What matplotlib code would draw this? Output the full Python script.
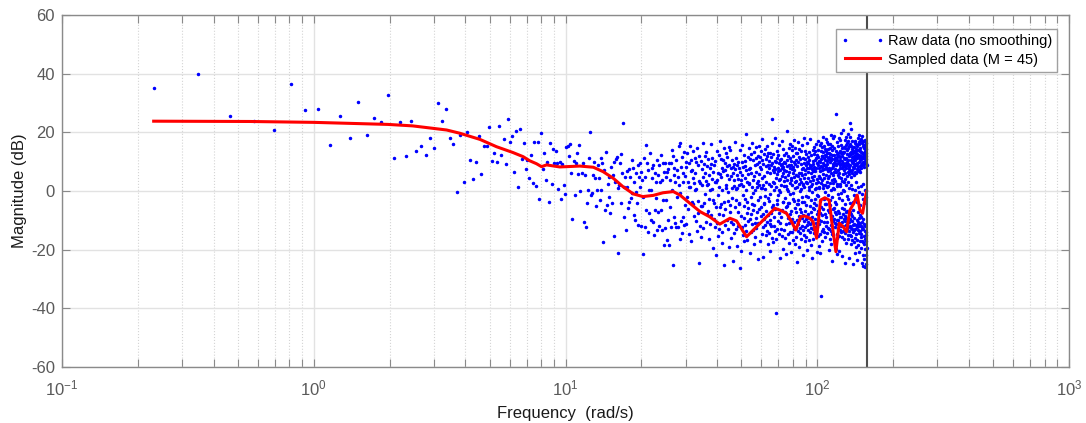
import matplotlib.pyplot as plt
import numpy as np

plt.rcParams['font.family'] = ['Liberation Sans', 'DejaVu Sans']
plt.rcParams['mathtext.fontset'] = 'custom'
plt.rcParams['mathtext.rm'] = 'Liberation Sans'
plt.rcParams['mathtext.it'] = 'Liberation Sans:italic'
plt.rcParams['axes.unicode_minus'] = False

# frequency resolution of the raw spectrum (rad/s) and the Nyquist frequency
dw = 0.1158
w_nyq = 157.08

# raw magnitude (dB), split by frequency bin ranges
# bins 2..79
raw_db_low = [
    35.0, 39.8, 25.6, 24.0, 20.7, 36.6, 27.5, 28.1, 15.7, 25.5,
    18.0, 30.2, 19.0, 24.9, 23.6, 32.6, 11.1, 23.6, 12.0, 24.0,
    13.6, 15.4, 12.3, 18.0, 14.7, 29.9, 24.0, 27.9, 18.2, 15.9,
    -0.3, 19.0, 3.1, 20.0, 10.5, 4.2, 9.9, 18.9, 5.7, 15.3,
    15.3, 21.9, 10.1, 13.1, 10.0, 22.3, 12.2, 17.6, 9.1, 24.7,
    16.8, 18.9, 6.4, 20.5, 1.3, 21.0, 10.8, 16.4, 7.4, 10.5,
    4.4, 12.3, 2.7, 16.8, 1.8, 16.8, -2.6, 19.7, 7.6, 12.8,
    3.6, 9.8, -3.9, 16.3, 2.5, 14.4, 9.4, 13.5,
]
# bins 80..259
raw_db_mid = [
    9.5, 0.6, 9.8, -2.6, 9.2, 2.2, -1.1, 15.1, 15.3, 12.1, 16.1, 6.1, -9.6, 10.3, -1.3, 9.4, 13.1, 5.8, 15.8, -0.0,
    6.0, 9.4, -10.7, 5.4, -12.2, -4.2, 0.3, 11.3, 20.2, -1.4, -0.8, 5.4, 10.0, 4.6, -5.1, 0.3, 8.9, 4.3, -3.1, 11.1,
    0.3, 9.6, -17.3, 7.2, -6.5, 13.3, -4.8, 2.5, -1.9, 4.9, -7.6, 8.1, -4.2, 5.4, 10.0, -15.4, 3.2, 10.8, 11.7, 1.0,
    -21.3, 2.0, 9.4, -4.2, 12.5, 6.3, 23.3, 1.5, -9.0, 4.9, -13.3, 6.9, 1.5, -5.9, 7.4, -3.7, 4.9, -2.5, 10.6, -0.8,
    7.7, -8.2, 3.1, -9.9, 6.0, -0.2, -4.2, 8.9, -11.6, 4.9, 1.5, 9.4, -12.0, 6.6, 3.7, -1.9, -21.5, 11.2, -12.2, 4.9,
    -6.5, 15.7, 9.4, -14.1, 7.1, 0.3, -7.6, 12.8, 0.3, -9.9, 7.7, 4.3, -10.5, 8.9, -15.0, -6.5, 6.0, -2.5, 3.2, -13.3,
    10.6, 5.4, -7.1, 8.9, -11.8, 3.2, 12.3, -6.5, -13.3, 3.7, 9.4, -3.1, 6.6, -18.4, 9.4, -12.7, -3.1, 4.9, -16.7, 6.6,
    -9.9, 7.5, -18.4, 9.4, -5.4, 3.7, -12.2, 9.4, 14.0, 0.3, -25.2, 12.1, -8.8, 5.4, 7.7, 3.2, -11.0, 10.6, -12.2, 7.1,
    -1.9, 4.9, -12.2, 2.0, 15.5, -16.2, 16.2, -0.8, 8.3, -10.1, 11.6, -14.3, 6.2, 2.9, -8.7, 13.4, -11.5, 5.1, -4.9, 9.8,
]
# bins 260..863
raw_db_high = [
    8.2, -11.4, -2.1, 12.9, -6.3, 3.1, -14.8, 9.6, 1.2, 1.4, 15.3, 6.8, -17.2, 10.4, -3.8, 7.1, -4.6, 4.4, 13.7, -8.6,
    2.7, 11.2, 0.2, 6.3, -10.2, 9.9, 0.8, -13.6, 14.8, -3.3, -7.4, 8.7, -24.6, 3.5, 12.1, -11.9, 2.6, -5.1, 10.3, -15.7,
    7.6, 1.9, -5.2, 16.4, 4.8, -12.7, 9.1, -4.2, 11.8, -0.9, 6.1, 3.3, -10.6, 13.2, -7.9, 8.4, 1.9, 2.4, 10.9, -6.8,
    5.5, -16.4, -2.7, 7.8, -11.1, 0.4, 9.3, -8.1, 15.9, 0.7, 4.1, 11.4, -19.6, 6.5, -3.1, 8.9, -4.0, -9.4, 2.9, -12.2,
    10.1, -5.6, 3.0, -21.8, 13.5, 3.8, -10.9, 6.2, -15.2, -1.5, 1.5, -7.7, 12.3, -12.8, 5.9, 17.1, -5.6, 4.7, -4.6, 11.0,
    -13.9, 8.0, 0.4, -17.7, 10.6, 6.7, -8.3, 14.5, -25.3, -3.8, 9.5, -11.7, 7.0, -6.0, 12.8, 0.9, 2.2, 8.6, 5.3, -10.0,
    11.7, -3.5, -0.3, -12.9, 15.0, 4.2, -19.0, 9.0, -7.2, -4.9, 13.9, -10.4, 7.7, -16.0, 5.0, 10.7, -2.4, 1.1, -23.7, 8.1,
    6.0, -11.2, 1.7, 3.6, -14.4, 9.2, -5.3, 16.8, 7.4, -3.0, 0.6, 11.3, -13.1, 5.6, -18.8, 8.8, 0.9, -7.0, 4.0, -11.8,
    9.8, 2.0, -4.3, 7.9, -4.0, 14.1, -26.2, 6.6, -20.5, 2.4, 3.9, -8.4, 10.0, -12.4, 5.4, 15.6, -1.2, 8.3, -14.9, 1.8,
    12.2, -9.3, -5.0, -17.0, 4.5, 10.2, -11.5, 8.5, -2.8, 0.3, -13.8, 7.2, 19.4, -7.5, 3.2, -16.6, -3.6, 5.8, -10.3, 11.5,
    -5.9, 7.5, 2.8, 14.7, 2.5, -9.7, 8.0, -21.0, 10.8, -2.0, -8.0, 12.7, -14.0, 6.3, 1.3, -11.3, -4.4, 16.2, -6.4, 3.7,
    -13.4, 10.5, -0.6, -17.9, 5.1, -4.8, 13.3, -10.8, 8.7, 0.2, -15.8, 11.1, 6.5, -9.2, 14.9, -12.6, 1.5, 2.8, 9.1, -7.3,
    12.0, -11.0, -3.2, 3.4, -23.1, 9.9, -6.2, 15.2, 5.7, 2.0, 8.2, -2.2, 11.6, -16.9, 7.6, 1.0, -5.3, 13.8, -8.5, 4.6,
    10.4, -14.5, 0.9, 17.6, -7.8, 2.1, -12.3, 9.3, -22.4, -4.1, 12.5, -9.5, 5.2, -4.3, 14.4, -11.6, -1.8, 0.7, -15.1, 10.9,
    -6.9, 8.6, 3.1, -13.7, 11.8, 6.6, -10.5, 15.4, -18.1, -2.5, 9.0, -8.2, 12.9, -3.3, 7.8, -14.2, 2.3, 10.1, -11.4, 6.2,
    13.1, -9.9, -1.0, -20.3, 8.9, 1.6, -7.6, 11.5, -12.1, 16.5, 24.5, -15.9, 9.5, -5.5, 7.0, 12.6, -4.7, 3.0, -17.4, 8.3,
    6.4, -11.9, 0.5, 2.6, -8.8, 10.3, -13.5, 7.4, 18.2, -6.1, 4.4, -16.3, 9.8, 1.4, -41.7, 11.2, -2.9, 5.9, -12.9, 13.7,
    -4.5, 8.0, -1.4, 6.7, 12.2, -10.2, 3.6, 15.8, -7.4, 9.4, -14.7, 0.5, 10.7, -11.0, 7.1, -23.0, -0.2, 4.1, -8.7, 8.8,
    11.0, -12.8, 2.0, 16.9, -6.5, 7.7, -15.3, 9.2, 5.0, -3.7, 14.3, -3.9, 8.1, -19.9, 6.0, 12.4, 1.7, 3.5, -13.2, 10.0,
    7.2, -7.1, -2.3, -16.1, 4.9, 9.7, -11.3, 1.7, 13.1, -5.4, 6.8, -21.4, 10.6, 20.5, -5.2, 8.5, 0.6, 3.9, 11.8, -14.8,
    5.3, -9.1, -4.2, 0.1, -17.6, 9.0, 6.4, -10.9, 14.6, -4.1, 7.9, -13.9, 2.7, 11.3, -7.8, 16.0, -1.1, 4.5, 8.7, -20.8,
    10.2, -6.8, 3.8, 13.9, -14.1, 7.5, -9.4, 1.9, 15.5, -0.7, 8.2, -2.6, 12.0, -16.8, 6.2, 9.9, -3.4, 4.7, -13.0, 17.3,
    -10.7, 7.0, 1.0, -5.7, 2.9, -18.0, 9.3, 14.8, -12.5, 5.6, -7.0, 10.5, -15.6, 3.3, 13.0, -9.8, -4.5, -24.2, 8.6, 1.2,
    12.9, -11.1, -2.9, -4.4, 16.6, -13.6, 5.0, 9.8, -8.6, 2.4, -19.2, 11.7, 6.3, -10.0, 14.2, -6.3, 0.0, -14.3, 4.0, 10.8,
    -12.6, 3.1, 13.6, -7.2, 9.1, -16.5, 6.1, 0.8, -9.3, -1.9, 7.6, -11.8, 15.7, -3.6, 5.4, -21.9, 2.5, 8.0, -13.4, 2.1,
    11.1, -8.1, -3.9, 18.0, -14.9, 4.3, 9.6, -10.3, 1.3, 13.5, -6.7, 7.3, -17.1, 10.9, 5.7, -12.3, -1.6, -4.7, 8.9, -9.5,
    3.2, 12.5, -15.7, 7.8, -11.5, 16.3, 2.6, -8.4, 10.0, -20.0, 6.5, 11.6, -7.7, 4.6, -13.3, 9.5, -2.2, -10.6, 0.3, 7.9,
    -16.7, 13.2, 1.2, -9.2, 10.4, -5.0, 8.3, -14.0, 17.7, 3.4, -11.2, 9.0, 6.0, -18.5, 12.3, -7.3, 1.6, -3.0, -12.7, 8.6,
    4.9, -10.4, -0.4, -22.8, 7.4, 2.3, -8.9, 14.1, -13.1, 6.8, 10.1, -5.8, 9.2, -16.2, 3.6, 12.7, -4.1, 7.2, -6.0, 15.0,
    -14.4, 8.1, 5.1, -9.7, 13.8, 0.6, -12.2, 10.6, 6.7, -2.6, 11.3, -4.9, 8.0, -10.8, 16.1, 2.8, -13.7, 0.9, -7.9, 4.2,
    12.4, -11.6, -1.3, -20.7,
]
# bins 864..1356 (up to Nyquist)
raw_db_top = [
    9.4, -12.2, 14.1, -1.8, -6.8, 11.5, 3.2, -15.3, 8.7, 17.0, -9.9, 5.1, 0.9, -18.6, 7.9, 1.4, -11.4, 10.3, 15.6, -7.5,
    4.4, 9.9, -14.6, -3.5, 6.8, -21.2, 13.7, 2.7, -10.1, -35.8, 8.5, 16.4, -5.4, 10.9, -13.7, 7.0, 11.8, -8.2, 3.9, 14.9,
    -16.9, 8.1, 12.0, 2.1, 5.8, 18.3, -12.8, 9.6, 0.9, -6.1, 13.3, 7.4, -2.8, 11.1, 4.6, -10.6, 15.2, -13.9, 8.8, 2.0,
    10.7, -7.7, 14.4, -0.5, -15.8, 12.2, -4.3, 9.0, 17.6, -11.9, 5.5, 11.9, -4.6, 8.3, 13.6, -8.8, 3.0, 10.1, -14.3, 16.7,
    7.6, -10.4, 12.9, 1.3, 9.3, 1.8, 15.9, -6.6, 11.2, -12.5, 6.9, 14.3, -1.2, 4.3, -20.1, 10.8, 8.0, -13.1, 13.0, 5.0,
    -7.0, 11.6, 16.1, -3.0, 7.2, -16.4, 9.8, 12.7, -4.9, 2.6, 14.8, -13.5, 0.4, 10.5, -9.6, 19.2, -18.0, 6.2, 11.3, -11.7,
    13.9, 3.6, -8.5, -2.2, -14.8, 15.5, 7.8, -23.8, 12.4, -6.3, 9.2, 5.6, 2.7, 17.9, -10.2, 8.6, 1.1, -15.1, 11.0, 14.6,
    -9.4, 6.6, 12.3, 0.6, 9.7, 18.7, -5.7, 4.0, -17.8, 11.4, 7.5, -10.9, -3.9, -12.4, 10.2, 3.3, -7.1, 13.5, -19.7, 8.9,
    26.2, -11.3, 9.1, -4.4, -8.0, 6.4, 11.7, -14.5, 16.8, 2.3, -9.8, 12.5, 1.6, -16.0, 10.6, -21.5, 13.1, 5.3, -6.7, 9.5,
    15.4, -12.9, 7.1, -1.0, -10.0, 18.1, -15.5, 4.7, 12.1, -7.4, 9.9, -20.6, -2.4, 6.1, -11.0, 8.7, 17.3, -13.2, 1.7, 10.4,
    -8.7, 13.8, 7.7, 2.4, 11.5, 4.5, -9.0, 15.7, -12.1, 9.3, 19.9, -14.0, -0.8, 12.8, -5.8, 10.1, -22.1, 8.0, 14.5, -10.5,
    3.5, 11.9, -15.7, -3.2, 8.5, -7.8, 12.9, -11.8, 5.9, 20.8, -13.6, 9.6, 0.2, 13.4, 7.3, -9.7, 11.4, 2.9, -16.5, 15.1,
    9.0, -6.2, 13.2, -0.1, 17.4, 6.0, -10.3, 10.9, -24.4, 14.8, 8.1, -8.6, -4.3, 4.1, -14.2, 18.5, -11.5, 9.7, 15.8, -7.0,
    11.3, -17.7, 7.9, 1.9, -9.2, 5.2, 16.3, -13.0, 10.0, -6.9, 14.1, 8.8, -1.7, 12.6, -11.2, 6.5, 19.6, -15.0, 9.2, 3.1,
    -12.3, 14.7, 10.4, -2.7, 17.0, -16.2, 7.4, 12.2, -10.7, 5.7, 15.3, -13.8, 1.0, -22.9, 11.8, 8.3, -7.3, 16.0, -11.9, 13.0,
    23.3, 6.8, -14.9, -4.1, 9.0, -9.5, 18.4, -18.2, 12.5, 4.8, -12.6, 15.5, 2.2, -7.9, 13.3, -15.4, 10.5, 21.0, -10.1, 7.0,
    14.4, -13.1, 9.8, 0.8, 16.9, 11.6, -8.4, 6.3, -16.8, 13.8, 10.2, -11.6, -3.6, -6.5, 8.2, 12.9, -25.0, 9.4, 15.0, -14.1,
    7.7, 12.1, -9.3, -1.4, -13.4, 10.8, 5.4, -17.5, 14.9, 8.4, -11.1, 16.5, 0.5, 11.7, -21.3, 9.1, 13.7, -12.8, 6.6, 17.2,
    -15.9, 10.7, 14.3, 2.9, 12.4, -19.0, 8.9, 16.0, -11.7, 6.1, 13.1, -14.6, -2.1, 9.6, -9.8, 11.2, -23.4, 15.2, 7.5, -12.3,
    12.7, -16.6, 9.3, -3.7, -10.6, 14.0, 6.9, -13.3, 11.9, -7.2, 18.2, -18.4, 1.4, 13.9, -11.4, 8.1, 15.9, -20.9, 12.3, -9.1,
    16.8, 7.2, -14.4, -0.3, -12.0, 19.0, 9.9, -17.2, 13.5, -8.1, 10.6, 14.6, -4.8, 8.5, -13.8, 17.1, 11.4, -10.9, 6.4, -15.6,
    13.3, -11.8, 9.0, 1.6, -19.5, 12.0, -8.8, 17.7, 10.9, -14.7, 7.8, -24.7, -1.1, 11.5, -12.4, 16.2, -16.9, 9.7, 12.8, -10.4,
    18.6, -13.0, 8.7, -2.6, -21.7, 11.3, -9.6, 15.4, -17.4, 10.0, 13.1, -12.9, 2.5, 16.9, -25.4, 12.2, -11.2, 9.2, 17.0, -15.2,
    11.6, -18.1, 14.7, -4.0, 8.3, 15.8, -23.2, 12.9, -13.6, 10.2, 17.4, -16.4, 0.3, -19.8, 13.6, -12.1, 11.1, -25.9, 15.1, -14.0,
    10.8, -17.0, 13.0, -21.8, 16.4, -1.9, 9.6, -24.9, 14.2, -15.1, 12.1, -19.3, 8.9,
]

# smoothed estimate (Blackman-Tukey, lag window M = 45)
smooth_w = [0.2313, 0.557, 1.0, 1.97, 2.47, 3.37, 3.80, 4.57, 5.32, 6.19,
            6.79, 7.21, 7.67, 8.03, 8.41, 9.49, 11.4, 12.9, 14.1, 15.5,
            16.9, 18.6, 20.3, 22.3, 24.4, 26.8, 28.5, 31.2, 34.2, 37.4,
            41.0, 45.0, 47.8, 52.4, 57.4, 62.9, 67.9, 71.0, 75.5, 79.1,
            82.2, 85.9, 89.3, 93.5, 96.3, 99.4, 103.1, 107.2, 111.5, 114.0,
            118.6, 122.2, 126.8, 130.8, 134.8, 139.8, 144.1, 147.7, 151.4, 154.6,
            157.0]
smooth_db = [23.8, 23.7, 23.4, 22.7, 22.2, 20.8, 19.7, 17.6, 15.1, 13.1,
             11.7, 10.3, 9.3, 8.3, 8.9, 8.2, 8.5, 8.1, 6.6, 4.3,
             1.5, -1.0, -1.9, -1.5, -0.6, -0.2, -1.4, -4.2, -7.0, -8.8,
             -11.3, -9.3, -10.2, -15.6, -12.2, -8.8, -5.9, -6.5, -7.6, -10.5,
             -13.3, -8.8, -8.5, -9.3, -10.5, -16.1, -3.1, -2.3, -3.1, -9.9,
             -20.7, -11.0, -12.2, -13.9, -6.5, -4.2, -1.4, -6.5, -7.6, -3.1,
             -0.2]

# frequency of every raw bin
w_raw = np.concatenate([
    dw * np.arange(2, 2 + len(raw_db_low)),
    dw * np.arange(80, 80 + len(raw_db_mid)),
    dw * np.arange(260, 260 + len(raw_db_high)),
    dw * np.arange(864, 864 + len(raw_db_top)),
])
db_raw = np.concatenate([raw_db_low, raw_db_mid, raw_db_high, raw_db_top])

fig = plt.figure(figsize=(10.86, 4.23), dpi=100)
ax = fig.add_axes([62 / 1086, 1 - 367 / 423, (1069 - 62) / 1086, 352 / 423])

ax.semilogx(w_raw, db_raw, '.', color='b', ms=3, label='Raw data (no smoothing)')
ax.semilogx(smooth_w, smooth_db, '-', color='r', lw=2.2, label='Sampled data (M = 45)')
ax.axvline(w_nyq, color='0.3', lw=1.5)

ax.set_xlim(0.1, 1000)
ax.set_ylim(-60, 60)
ax.set_yticks(np.arange(-60, 61, 20))

ax.set_axisbelow(True)
ax.grid(True, which='major', color='#e2e2e2', lw=1, ls='-')
ax.grid(True, which='minor', axis='x', color='#d4d4d4', lw=0.8, ls=':')

for s in ax.spines.values():
    s.set_color('#8a8a8a')
    s.set_linewidth(1)
ax.tick_params(which='both', direction='in', top=True, right=True, length=6,
               width=0.8, color='#8a8a8a', labelcolor='#5a5a5a', labelsize=12)
ax.tick_params(axis='y', pad=5)
ax.tick_params(axis='x', which='both', pad=8)

ax.set_ylabel('Magnitude (dB)', fontsize=12, color='#1a1a1a')
ax.yaxis.set_label_coords(-0.035, 0.5)
ax.set_xlabel('Frequency  (rad/s)', fontsize=12, color='#1a1a1a')
ax.xaxis.set_label_coords(0.5, -0.112)

leg = ax.legend(loc='upper right', bbox_to_anchor=(0.988, 0.960), borderaxespad=0,
                fancybox=False, edgecolor='#a0a0a0', framealpha=1, numpoints=2,
                fontsize=10.5, handlelength=3.0, handletextpad=0.2,
                borderpad=0.35, labelspacing=0.3)
leg.get_frame().set_linewidth(1)

fig.savefig('out.png', dpi=100)
